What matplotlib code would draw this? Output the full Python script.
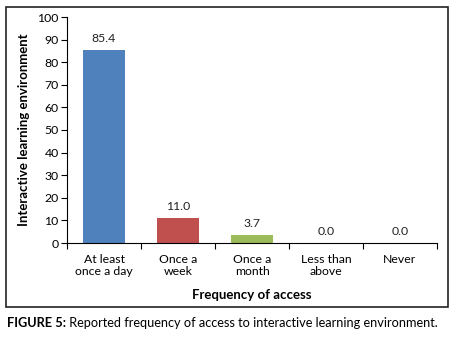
import matplotlib
matplotlib.use("Agg")
import matplotlib.pyplot as plt
from matplotlib.patches import Rectangle

categories = ["At least\nonce a day", "Once a\nweek", "Once a\nmonth", "Less than\nabove", "Never"]
values = [85.4, 11.0, 3.7, 0.0, 0.0]
colors = ["#4F81BD", "#C0504D", "#9BBB59", "#8064A2", "#4BACC6"]
yticks = [0, 10, 20, 30, 40, 50, 60, 70, 80, 90, 100]

plt.rcParams['font.family'] = ['Lato', 'DejaVu Sans']

W, H = 457, 338
fig = plt.figure(figsize=(W/100, H/100), dpi=100)
ax = fig.add_axes([67/W, 1-243/H, (437-67)/W, (243-17)/H])

x = list(range(len(categories)))
ax.bar(x, values, width=0.58, color=colors[:len(values)])
for xi, v in zip(x, values):
    ax.text(xi, v + 2.5, f"{v:.1f}", ha='center', va='bottom', fontsize=8.8, color='#222222')

ax.set_xlim(-0.5, len(categories) - 0.5)
ax.set_ylim(0, 100)
ax.set_yticks(yticks)
ax.set_yticklabels([str(t) for t in yticks], fontsize=8.8)
ax.set_xticks([i - 0.5 for i in range(len(categories) + 1)])
ax.set_xticklabels([])
ax.set_xticks(x, minor=True)
ax.set_xticklabels(categories, minor=True, fontsize=8.8, linespacing=1.05)
ax.tick_params(axis='x', which='minor', length=0, pad=8)
ax.tick_params(axis='x', which='major', direction='out', length=4, width=0.8)
ax.tick_params(axis='y', direction='out', length=4, width=0.8, pad=2)
for s in ['top', 'right']:
    ax.spines[s].set_visible(False)
for s in ['left', 'bottom']:
    ax.spines[s].set_linewidth(0.8)

ax.set_xlabel("Frequency of access", fontsize=9.5, fontweight='bold', labelpad=9)
ax.set_ylabel("Interactive learning environment", fontsize=9.5, fontweight='bold', labelpad=5)

fig.patches.append(Rectangle((6/W, 1-307/H), (448-6)/W, (307-7)/H, transform=fig.transFigure,
                             fill=False, edgecolor='#222222', linewidth=1.2))

t1 = fig.text(7/W, 1-323/H, "FIGURE 5:", fontsize=9.2, fontweight='bold', va='center', ha='left')
fig.canvas.draw()
fig.text(0, 0, " Reported frequency of access to interactive learning environment.",
         fontsize=9.2, va='center', ha='left', transform=t1.get_transform())
bb = t1.get_window_extent(renderer=fig.canvas.get_renderer())
fig.texts[-1].set_position((bb.x1 / (W), 1-323/H))
fig.texts[-1].set_transform(fig.transFigure)

fig.savefig("out.png", dpi=100)
